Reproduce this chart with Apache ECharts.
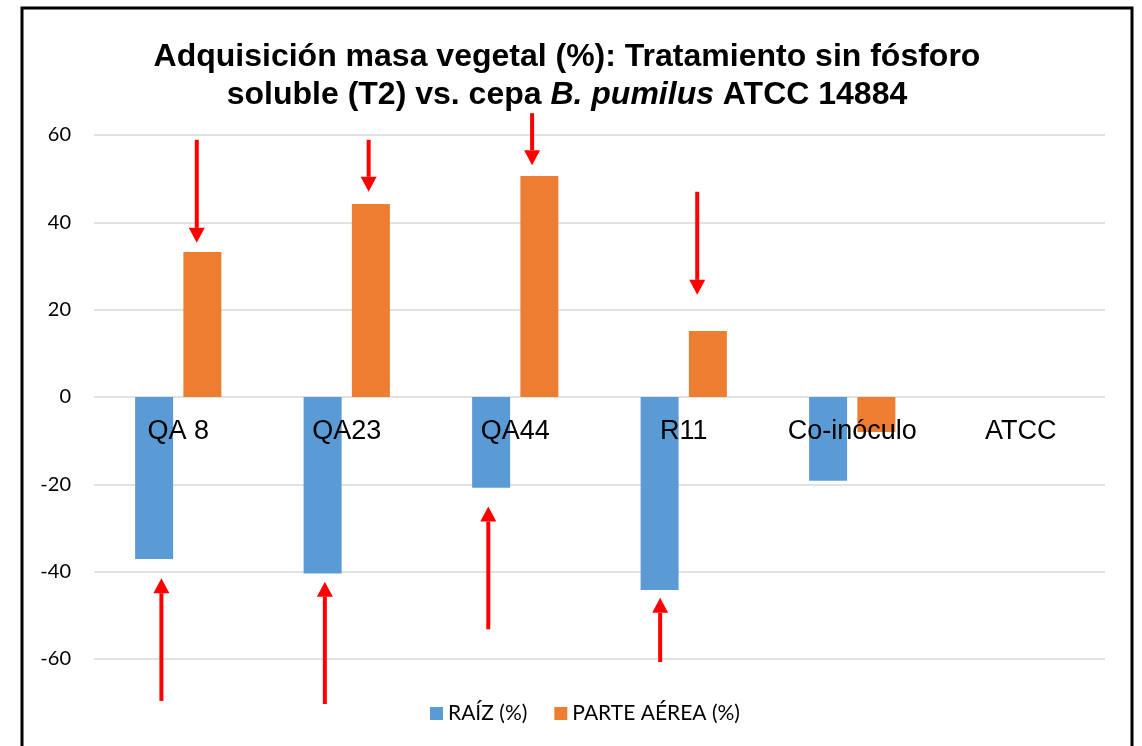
<!DOCTYPE html>
<html>
<head>
<meta charset="utf-8">
<script src="https://cdn.jsdelivr.net/npm/echarts@6/dist/echarts.min.js"></script>
<style>
  html, body { margin: 0; padding: 0; background: #fff; }
  #chart { width: 1142px; height: 746px; }
</style>
</head>
<body>
<div id="chart"></div>
<script>
const categories = ["QA 8", "QA23", "QA44", "R11", "Co-inóculo", "ATCC"];
const raiz = [-37.1, -40.4, -20.8, -44.2, -19.2, 0];
const aerea = [33.2, 44.2, 50.6, 15.1, -8, 0];
const yMin = -60, yMax = 60, yStep = 20;

// red arrows: position along category axis, tail value, tip value
const arrowPos = [0.11, 1.13, 2.10, 3.08, -0.10, 0.87, 1.84, 2.86];
const arrowFrom = [58.9, 58.9, 65.0, 47.0, -69.6, -70.3, -53.2, -60.7];
const arrowTo = [35.3, 47.0, 53.1, 23.4, -41.5, -42.3, -25.1, -46.0];

const gridTop = 135, gridBottom = 87, H = 746;
// labels sit on the zero line, like in Excel
const zeroOffset = -(H - gridTop - gridBottom) * (0 - yMin) / (yMax - yMin);

const chart = echarts.init(document.getElementById("chart"));

const option = {
  backgroundColor: "#fff",
  animation: false,
  title: {
    text: "{b|Adquisición masa vegetal (%): Tratamiento sin fósforo}\n{b|soluble (T2) vs. cepa }{i|B. pumilus}{b| ATCC 14884}",
    left: 562,
    top: 33,
    textAlign: "center",
    textStyle: {
      rich: {
        b: { fontFamily: "Liberation Sans", fontWeight: "bold", fontSize: 32, lineHeight: 38, color: "#000" },
        i: { fontFamily: "Liberation Sans", fontWeight: "bold", fontStyle: "italic", fontSize: 32, lineHeight: 38, color: "#000" },
      },
    },
  },
  legend: {
    data: ["RAÍZ (%)", "PARTE AÉREA (%)"],
    left: 425,
    top: 698,
    icon: "rect",
    itemWidth: 13,
    itemHeight: 13,
    itemGap: 27,
    textStyle: { fontFamily: "Lato", fontSize: 21, color: "#000" },
  },
  grid: { left: 94, right: 37, top: gridTop, bottom: gridBottom },
  xAxis: {
    type: "category",
    data: categories,
    z: 10,
    offset: zeroOffset,
    axisLine: { show: false, onZero: false },
    axisTick: { show: false },
    axisLabel: { fontFamily: "Liberation Sans", fontSize: 27, color: "#000", margin: 21 },
  },
  yAxis: {
    type: "value",
    min: yMin,
    max: yMax,
    interval: yStep,
    axisLine: { show: false },
    axisTick: { show: false },
    axisLabel: { fontFamily: "Lato", fontSize: 20, color: "#000", margin: 23 },
    splitLine: { lineStyle: { color: "#d9d9d9", width: 1.5 } },
  },
  graphic: [
    {
      type: "rect",
      shape: { x: 22, y: 8, width: 1110, height: 760 },
      style: { fill: "none", stroke: "#000", lineWidth: 3 },
      silent: true,
    },
  ],
  series: [
    {
      name: "RAÍZ (%)",
      type: "bar",
      data: raiz,
      barWidth: 38,
      barGap: "27%",
      itemStyle: { color: "#5b9bd5" },
    },
    {
      name: "PARTE AÉREA (%)",
      type: "bar",
      data: aerea,
      barWidth: 38,
      itemStyle: { color: "#ed7d31" },
    },
    {
      type: "custom",
      clip: false,
      z: 5,
      data: arrowPos.map((p, i) => [Math.round(p), arrowFrom[i], arrowTo[i]]),
      encode: { x: 0, y: [1, 2] },
      renderItem: (params, api) => {
        const i = params.dataIndex;
        const band = api.size([1, 0])[0];
        const x = api.coord([0, 0])[0] + arrowPos[i] * band;
        const y0 = api.coord([0, arrowFrom[i]])[1];
        const y1 = api.coord([0, arrowTo[i]])[1];
        const dir = y1 > y0 ? 1 : -1;
        const head = 15;
        const half = 8;
        return {
          type: "group",
          children: [
            {
              type: "line",
              shape: { x1: x, y1: y0, x2: x, y2: y1 - dir * head },
              style: { stroke: "#ff0000", lineWidth: 4 },
            },
            {
              type: "polygon",
              shape: { points: [[x - half, y1 - dir * head], [x + half, y1 - dir * head], [x, y1]] },
              style: { fill: "#ff0000" },
            },
          ],
        };
      },
    },
  ],
};

chart.setOption(option);
</script>
</body>
</html>
